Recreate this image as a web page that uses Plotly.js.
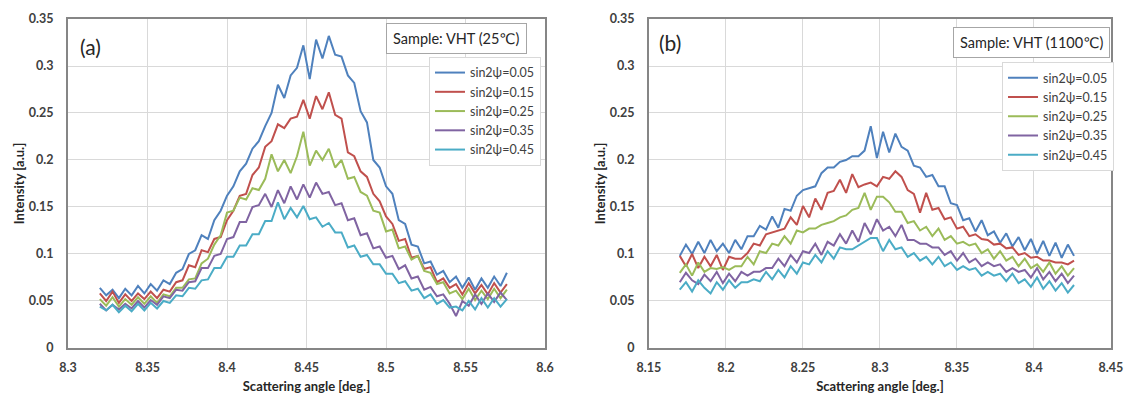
<!DOCTYPE html>
<html>
<head>
<meta charset="utf-8">
<script src="https://cdn.plot.ly/plotly-3.0.1.min.js"></script>
<style>html,body{margin:0;padding:0;background:#fff;}#chart{width:1147px;height:401px;}</style>
</head>
<body>
<div id="chart"></div>
<script>
// ---- Data ----
const seriesNames = ["sin2ψ=0.05", "sin2ψ=0.15", "sin2ψ=0.25", "sin2ψ=0.35", "sin2ψ=0.45"];
const seriesColors = ["#4F81BD", "#C0504D", "#9BBB59", "#8064A2", "#4BACC6"];

// Panel (a): VHT 25 C
const angleA = [8.320,8.324,8.328,8.332,8.336,8.340,8.344,8.348,8.352,8.356,8.360,8.364,8.368,8.372,8.376,8.380,8.384,8.388,8.392,8.396,8.400,8.404,8.408,8.412,8.416,8.420,8.424,8.428,8.432,8.436,8.440,8.444,8.448,8.452,8.456,8.460,8.464,8.468,8.472,8.476,8.480,8.484,8.488,8.492,8.496,8.500,8.504,8.508,8.512,8.516,8.520,8.524,8.528,8.532,8.536,8.540,8.544,8.548,8.552,8.556,8.560,8.564,8.568,8.572,8.576];
const a005 = [0.064,0.056,0.062,0.053,0.063,0.056,0.066,0.058,0.068,0.061,0.072,0.068,0.080,0.084,0.100,0.104,0.120,0.116,0.136,0.146,0.162,0.172,0.188,0.196,0.212,0.220,0.236,0.250,0.280,0.266,0.290,0.298,0.322,0.286,0.328,0.308,0.332,0.312,0.310,0.290,0.282,0.252,0.240,0.200,0.192,0.172,0.164,0.136,0.132,0.110,0.108,0.090,0.092,0.078,0.082,0.070,0.076,0.064,0.075,0.062,0.074,0.064,0.076,0.066,0.080];
const a015 = [0.058,0.050,0.060,0.048,0.057,0.050,0.058,0.052,0.060,0.053,0.062,0.060,0.070,0.072,0.088,0.086,0.104,0.102,0.116,0.118,0.136,0.146,0.162,0.164,0.184,0.192,0.214,0.220,0.238,0.234,0.244,0.246,0.264,0.244,0.268,0.254,0.272,0.248,0.244,0.208,0.204,0.188,0.182,0.164,0.156,0.140,0.132,0.114,0.116,0.096,0.098,0.084,0.086,0.070,0.074,0.064,0.068,0.057,0.069,0.058,0.067,0.057,0.069,0.059,0.068];
const a025 = [0.052,0.045,0.054,0.044,0.052,0.046,0.054,0.047,0.055,0.048,0.057,0.055,0.064,0.064,0.073,0.074,0.090,0.095,0.110,0.120,0.144,0.146,0.160,0.158,0.170,0.168,0.180,0.206,0.188,0.200,0.186,0.204,0.230,0.194,0.210,0.200,0.212,0.192,0.200,0.180,0.182,0.166,0.162,0.146,0.144,0.124,0.126,0.106,0.108,0.094,0.098,0.082,0.080,0.068,0.070,0.058,0.061,0.052,0.063,0.051,0.061,0.052,0.063,0.053,0.062];
const a035 = [0.047,0.040,0.046,0.041,0.047,0.042,0.050,0.043,0.051,0.046,0.055,0.053,0.062,0.061,0.070,0.071,0.085,0.085,0.098,0.100,0.116,0.118,0.134,0.134,0.150,0.152,0.164,0.150,0.168,0.154,0.172,0.158,0.174,0.160,0.176,0.164,0.166,0.152,0.154,0.136,0.138,0.120,0.122,0.106,0.108,0.096,0.098,0.084,0.088,0.074,0.076,0.062,0.065,0.055,0.057,0.047,0.034,0.050,0.045,0.057,0.047,0.058,0.049,0.059,0.051];
const a045 = [0.044,0.040,0.046,0.038,0.045,0.039,0.047,0.040,0.048,0.042,0.050,0.048,0.056,0.055,0.064,0.063,0.072,0.073,0.085,0.085,0.097,0.097,0.109,0.109,0.121,0.121,0.135,0.135,0.155,0.137,0.149,0.139,0.151,0.137,0.139,0.129,0.133,0.123,0.123,0.107,0.109,0.097,0.099,0.089,0.089,0.079,0.079,0.069,0.071,0.061,0.063,0.053,0.057,0.047,0.051,0.043,0.044,0.040,0.050,0.041,0.053,0.043,0.053,0.044,0.052];

// Panel (b): VHT 1100 C
const angleB = [8.170,8.174,8.178,8.182,8.186,8.190,8.194,8.198,8.202,8.206,8.210,8.214,8.218,8.222,8.226,8.230,8.234,8.238,8.242,8.246,8.250,8.254,8.258,8.262,8.266,8.270,8.274,8.278,8.282,8.286,8.290,8.294,8.298,8.302,8.306,8.310,8.314,8.318,8.322,8.326,8.330,8.334,8.338,8.342,8.346,8.350,8.354,8.358,8.362,8.366,8.370,8.374,8.378,8.382,8.386,8.390,8.394,8.398,8.402,8.406,8.410,8.414,8.418,8.422,8.426];
const b005 = [0.098,0.110,0.100,0.113,0.101,0.115,0.103,0.111,0.101,0.115,0.105,0.119,0.119,0.130,0.126,0.140,0.128,0.148,0.146,0.162,0.168,0.170,0.172,0.186,0.192,0.192,0.198,0.200,0.204,0.204,0.210,0.236,0.202,0.230,0.208,0.228,0.214,0.210,0.194,0.192,0.182,0.184,0.172,0.172,0.154,0.152,0.136,0.138,0.124,0.136,0.120,0.124,0.112,0.122,0.108,0.118,0.104,0.116,0.100,0.114,0.098,0.112,0.096,0.110,0.098];
const b015 = [0.098,0.087,0.100,0.085,0.097,0.087,0.099,0.083,0.097,0.095,0.095,0.101,0.111,0.109,0.121,0.123,0.125,0.127,0.139,0.131,0.151,0.139,0.159,0.147,0.165,0.167,0.179,0.165,0.185,0.171,0.174,0.176,0.172,0.182,0.180,0.188,0.182,0.168,0.164,0.144,0.165,0.147,0.149,0.137,0.139,0.127,0.129,0.119,0.121,0.116,0.115,0.110,0.111,0.106,0.107,0.099,0.101,0.096,0.097,0.093,0.093,0.091,0.091,0.089,0.093];
const b025 = [0.080,0.089,0.077,0.091,0.081,0.085,0.084,0.086,0.083,0.087,0.087,0.097,0.089,0.103,0.101,0.111,0.109,0.119,0.111,0.125,0.123,0.127,0.127,0.131,0.133,0.135,0.139,0.141,0.147,0.149,0.165,0.147,0.161,0.161,0.155,0.145,0.145,0.133,0.135,0.125,0.129,0.119,0.127,0.115,0.119,0.111,0.113,0.109,0.111,0.101,0.105,0.095,0.103,0.093,0.097,0.087,0.095,0.085,0.089,0.081,0.091,0.079,0.087,0.077,0.085];
const b035 = [0.070,0.080,0.072,0.068,0.078,0.071,0.081,0.069,0.079,0.071,0.081,0.077,0.081,0.081,0.085,0.085,0.095,0.087,0.099,0.091,0.103,0.101,0.111,0.099,0.113,0.109,0.121,0.111,0.125,0.113,0.133,0.121,0.137,0.125,0.129,0.119,0.131,0.115,0.115,0.111,0.111,0.107,0.107,0.099,0.103,0.093,0.101,0.091,0.095,0.087,0.091,0.087,0.089,0.081,0.085,0.081,0.083,0.075,0.085,0.073,0.081,0.071,0.079,0.069,0.077];
const b045 = [0.062,0.070,0.060,0.072,0.064,0.058,0.070,0.062,0.072,0.064,0.070,0.070,0.073,0.071,0.081,0.073,0.083,0.075,0.087,0.079,0.091,0.089,0.099,0.091,0.103,0.095,0.107,0.105,0.105,0.109,0.113,0.117,0.117,0.103,0.115,0.105,0.107,0.097,0.101,0.093,0.097,0.089,0.097,0.087,0.091,0.083,0.087,0.083,0.085,0.077,0.081,0.077,0.079,0.071,0.079,0.069,0.073,0.065,0.075,0.063,0.071,0.061,0.069,0.059,0.067];

const xTicksA = [8.3, 8.35, 8.4, 8.45, 8.5, 8.55, 8.6];
const xTicksB = [8.15, 8.2, 8.25, 8.3, 8.35, 8.4, 8.45];
const yTicks = [0, 0.05, 0.1, 0.15, 0.2, 0.25, 0.3, 0.35];

// ---- Build traces ----
const setA = [a005, a015, a025, a035, a045];
const setB = [b005, b015, b025, b035, b045];
const traces = [];
setA.forEach((ys, i) => traces.push({
  x: angleA, y: ys, type: 'scatter', mode: 'lines', name: seriesNames[i],
  line: {color: seriesColors[i], width: 2}, xaxis: 'x', yaxis: 'y', legend: 'legend'
}));
setB.forEach((ys, i) => traces.push({
  x: angleB, y: ys, type: 'scatter', mode: 'lines', name: seriesNames[i],
  line: {color: seriesColors[i], width: 2}, xaxis: 'x2', yaxis: 'y2', legend: 'legend2'
}));

const FONT = 'Lato, "Open Sans", "DejaVu Sans", sans-serif';
const tickFont = {family: FONT, size: 12.5, color: '#404040', weight: 'bold'};
const titleFont = {family: FONT, size: 13, color: '#262626', weight: 'bold'};

function xAxis(domain, range, ticks, anchor) {
  return {
    domain: domain, range: range, tickvals: ticks, ticktext: ticks.map(String), anchor: anchor,
    showgrid: true, gridcolor: '#d9d9d9', gridwidth: 1, zeroline: false,
    showline: true, linecolor: '#868686', linewidth: 2, mirror: true,
    ticks: '', ticklabelstandoff: 7, tickfont: tickFont, automargin: false,
    title: {text: 'Scattering angle [deg.]', font: titleFont, standoff: 8}
  };
}
function yAxis(anchor) {
  return {
    domain: [0.1322, 0.9526], range: [0, 0.35], tickvals: yTicks, ticktext: yTicks.map(String),
    anchor: anchor,
    showgrid: true, gridcolor: '#d9d9d9', gridwidth: 1, zeroline: false,
    showline: true, linecolor: '#868686', linewidth: 2, mirror: true,
    ticks: '', ticklabelstandoff: 10, tickfont: tickFont, automargin: false,
    title: {text: 'Intensity [a.u.]', font: titleFont, standoff: 1}
  };
}

const legendStyle = (x, y) => ({
  x: x, y: y, xanchor: 'left', yanchor: 'top', xref: 'paper', yref: 'paper',
  bgcolor: '#ffffff', bordercolor: '#d9d9d9', borderwidth: 1,
  font: {family: FONT, size: 12.5, color: '#404040'},
  itemwidth: 30, tracegroupgap: 0
});

const boxAnn = (x, y, text) => ({
  x: x, y: y, xref: 'paper', yref: 'paper', xanchor: 'center', yanchor: 'middle',
  text: text, showarrow: false, font: {family: FONT, size: 14.5, color: '#262626'},
  bgcolor: '#ffffff', bordercolor: '#a6a6a6', borderwidth: 1, borderpad: 6
});

const layout = {
  width: 1147, height: 401,
  margin: {l: 0, r: 0, t: 0, b: 0},
  paper_bgcolor: '#ffffff', plot_bgcolor: '#ffffff',
  showlegend: true,
  xaxis: xAxis([0.0593, 0.4752], [8.3, 8.6], xTicksA, 'y'),
  yaxis: yAxis('x'),
  xaxis2: xAxis([0.5658, 0.9686], [8.15, 8.45], xTicksB, 'y2'),
  yaxis2: yAxis('x2'),
  legend: legendStyle(0.374, 0.858),
  legend2: legendStyle(0.8736, 0.845),
  annotations: [
    {x: 0.0785, y: 0.885, xref: 'paper', yref: 'paper', xanchor: 'center', yanchor: 'middle',
     text: '(a)', showarrow: false, font: {family: FONT, size: 21, color: '#262626'}},
    {x: 0.584, y: 0.895, xref: 'paper', yref: 'paper', xanchor: 'center', yanchor: 'middle',
     text: '(b)', showarrow: false, font: {family: FONT, size: 21, color: '#262626'}},
    boxAnn(0.3984, 0.905, 'Sample: VHT (25℃)'),
    boxAnn(0.8990, 0.895, 'Sample: VHT (1100℃)')
  ]
};

Plotly.newPlot('chart', traces, layout, {displayModeBar: false, staticPlot: true});
</script>
</body>
</html>
